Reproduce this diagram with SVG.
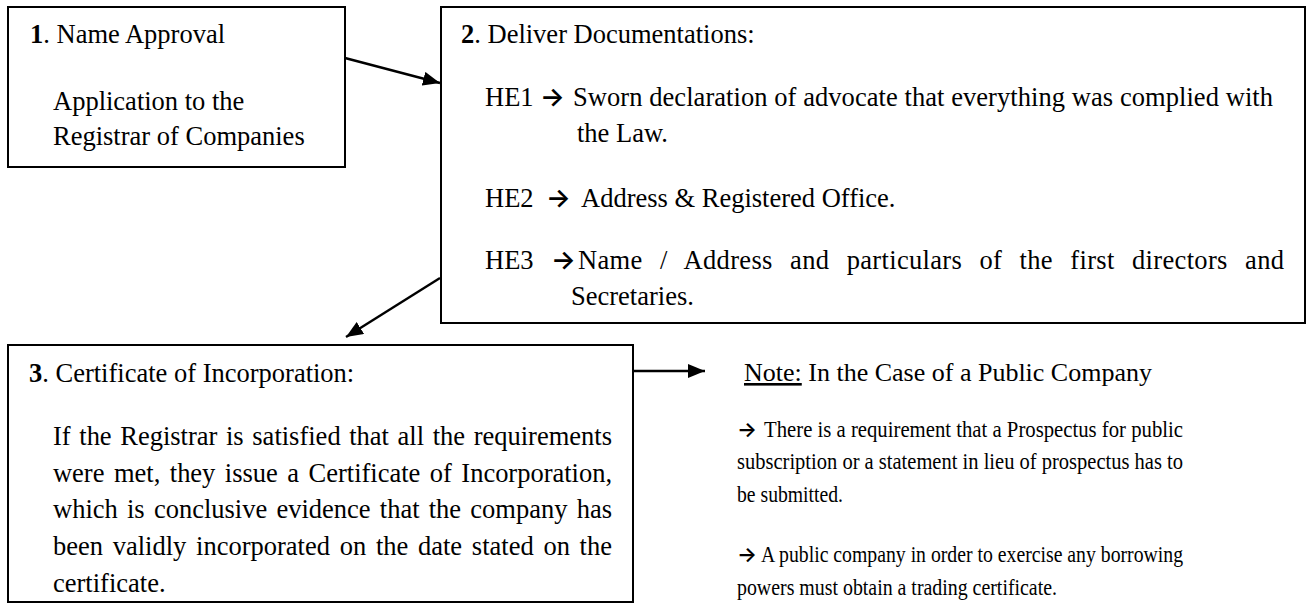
<svg xmlns="http://www.w3.org/2000/svg" width="1309" height="603" viewBox="0 0 1309 603">
<defs>
<style>
.box{fill:#fff;stroke:#000;stroke-width:2}
.t{font-family:"Liberation Serif","Times New Roman",serif;font-size:26.5px;fill:#000}
.n{font-family:"Liberation Serif","Times New Roman",serif;font-size:23px;fill:#000}
.b{font-weight:bold}
.ar{font-family:Inter,"DejaVu Sans",sans-serif;font-weight:600;font-size:26px;fill:#000}
.ars{font-family:Inter,"DejaVu Sans",sans-serif;font-weight:600;font-size:21px;fill:#000}
.c{stroke:#000;stroke-width:2.4;fill:none}
</style>
<marker id="ah" markerUnits="userSpaceOnUse" markerWidth="17" markerHeight="14" refX="17" refY="7" orient="auto">
<path d="M0,0 L17,7 L0,14 z" fill="#000"/>
</marker>
</defs>
<rect width="1309" height="603" fill="#fff"/>
<g id="node1">
<rect class="box" x="8" y="7" width="337" height="160"/>
<text class="t" x="30" y="43"><tspan class="b">1</tspan>. Name Approval</text>
<text class="t" x="53" y="110">Application to the</text>
<text class="t" x="53" y="145">Registrar of Companies</text>
</g>
<g id="node2">
<rect class="box" x="441" y="7" width="864" height="316"/>
<text class="t" x="461" y="43"><tspan class="b">2</tspan>. Deliver Documentations:</text>
<text class="t" x="485" y="106">HE1</text>
<text class="ar" x="540" y="106">→</text>
<text class="t" x="573" y="106" textLength="700" lengthAdjust="spacing">Sworn declaration of advocate that everything was complied with</text>
<text class="t" x="577" y="142">the Law.</text>
<text class="t" x="485" y="207">HE2</text>
<text class="ar" x="546" y="207">→</text>
<text class="t" x="581" y="207">Address &amp; Registered Office.</text>
<text class="t" x="485" y="269">HE3</text>
<text class="ar" x="551" y="269">→</text>
<text class="t" x="578" y="269" word-spacing="10.4" textLength="706" lengthAdjust="spacing">Name / Address and particulars of the first directors and</text>
<text class="t" x="571" y="305">Secretaries.</text>
</g>
<g id="node3">
<rect class="box" x="8" y="345" width="625" height="257"/>
<text class="t" x="29" y="382"><tspan class="b">3</tspan>. Certificate of Incorporation:</text>
<text class="t" x="53" y="445" word-spacing="2" textLength="559" lengthAdjust="spacing">If the Registrar is satisfied that all the requirements</text>
<text class="t" x="53" y="482" word-spacing="2.9" textLength="559" lengthAdjust="spacing">were met, they issue a Certificate of Incorporation,</text>
<text class="t" x="53" y="518" word-spacing="2.6" textLength="559" lengthAdjust="spacing">which is conclusive evidence that the company has</text>
<text class="t" x="53" y="555" word-spacing="3.1" textLength="559" lengthAdjust="spacing">been validly incorporated on the date stated on the</text>
<text class="t" x="53" y="592">certificate.</text>
</g>
<g id="note">
<text class="t" x="744" y="381" style="font-size:26px"><tspan text-decoration="underline">Note:</tspan> In the Case of a Public Company</text>
<text class="ars" x="737" y="437">→</text>
<text class="n" x="764" y="437" textLength="419" lengthAdjust="spacingAndGlyphs">There is a requirement that a Prospectus for public</text>
<text class="n" x="737" y="469" textLength="446" lengthAdjust="spacingAndGlyphs">subscription or a statement in lieu of prospectus has to</text>
<text class="n" x="737" y="502" textLength="106" lengthAdjust="spacingAndGlyphs">be submitted.</text>
<text class="ars" x="737" y="562">→</text>
<text class="n" x="761" y="562" textLength="422" lengthAdjust="spacingAndGlyphs">A public company in order to exercise any borrowing</text>
<text class="n" x="737" y="595" textLength="320" lengthAdjust="spacingAndGlyphs">powers must obtain a trading certificate.</text>
</g>
<g id="connectors">
<line class="c" x1="345" y1="58" x2="440" y2="83" marker-end="url(#ah)"/>
<line class="c" x1="440" y1="278" x2="346" y2="337" marker-end="url(#ah)"/>
<line class="c" x1="634" y1="371" x2="705" y2="371" marker-end="url(#ah)"/>
</g>
</svg>
